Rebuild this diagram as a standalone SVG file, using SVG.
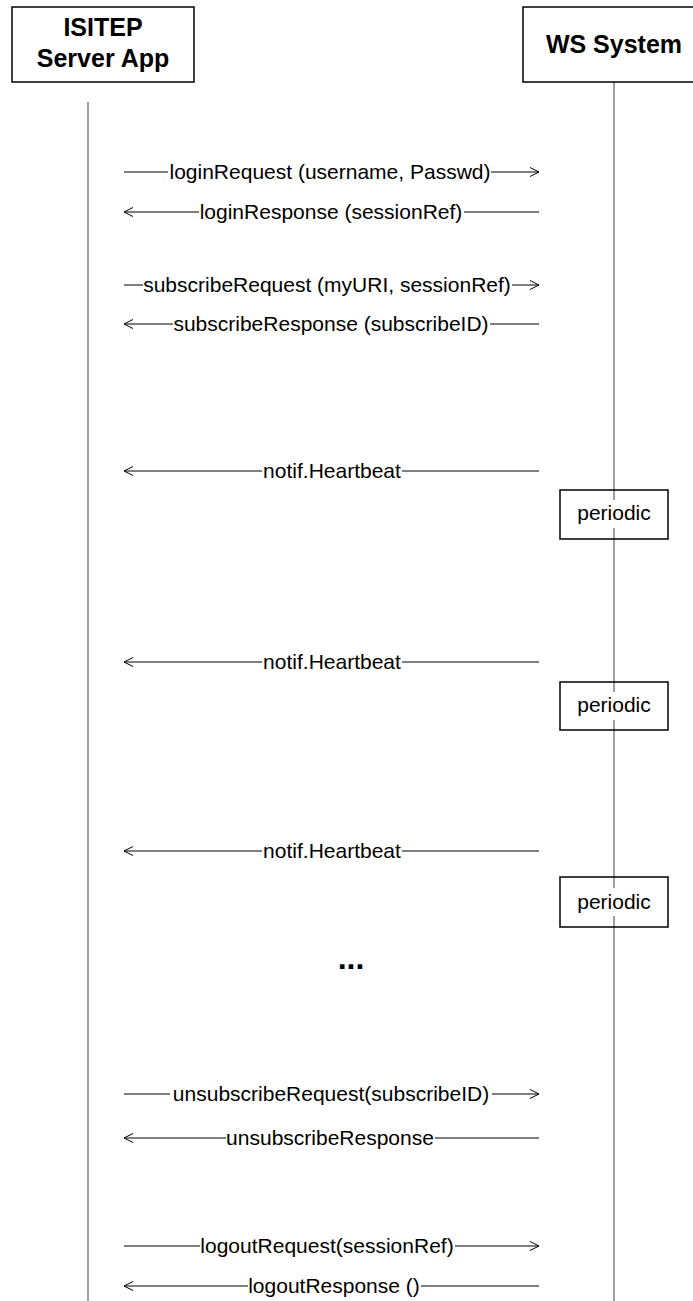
<svg xmlns="http://www.w3.org/2000/svg" width="693" height="1301" viewBox="0 0 693 1301">
  <style>
    .box { fill: #ffffff; stroke: #000000; stroke-width: 1.5; }
    .head { font-family: "Liberation Sans", Arial, sans-serif; font-weight: bold; font-size: 25px; text-anchor: middle; fill: #000000; }
    .life { stroke: #808080; stroke-width: 1.5; fill: none; }
    .msg { stroke: #000000; stroke-width: 1; fill: none; }
    .lbl { font-family: "Liberation Sans", Arial, sans-serif; font-size: 21px; text-anchor: middle; fill: #000000; }
    .bg { fill: #ffffff; stroke: none; }
    .note { fill: none; stroke: #000000; stroke-width: 1.5; }
  </style>
  <defs>
    <marker id="open-arrow" markerUnits="userSpaceOnUse" markerWidth="12" markerHeight="12" viewBox="0 0 12 12" refX="10" refY="6" orient="auto">
      <path d="M1,1.5 L10,6 L1,10.5" fill="none" stroke="#000000" stroke-width="1"/>
    </marker>
  </defs>
  <rect width="693" height="1301" fill="#ffffff"/>

  <!-- lifelines -->
  <g id="lifelines">
    <line class="life" x1="88" y1="102" x2="88" y2="1301"/>
    <line class="life" x1="614" y1="82" x2="614" y2="1301"/>
  </g>

  <!-- participants -->
  <g id="isitep-server-app">
    <rect class="box" x="12" y="7" width="182" height="75"/>
    <text class="head" x="103" y="36">ISITEP</text>
    <text class="head" x="103" y="67">Server App</text>
  </g>
  <g id="ws-system">
    <rect class="box" x="523" y="7" width="190" height="75"/>
    <text class="head" x="614" y="53">WS System</text>
  </g>

  <!-- message connectors with their labels -->
  <g id="connectors">
    <g id="msg-login-request">
      <line class="msg" x1="124" y1="172" x2="539" y2="172" marker-end="url(#open-arrow)"/>
      <rect class="bg" x="168" y="160" width="323" height="26"/>
      <text class="lbl" x="330" y="179">loginRequest (username, Passwd)</text>
    </g>
    <g id="msg-login-response">
      <line class="msg" x1="539" y1="212" x2="124" y2="212" marker-end="url(#open-arrow)"/>
      <rect class="bg" x="199" y="200" width="265" height="26"/>
      <text class="lbl" x="331" y="219">loginResponse (sessionRef)</text>
    </g>
    <g id="msg-subscribe-request">
      <line class="msg" x1="124" y1="285" x2="539" y2="285" marker-end="url(#open-arrow)"/>
      <rect class="bg" x="143" y="273" width="369" height="26"/>
      <text class="lbl" x="327" y="292">subscribeRequest (myURI, sessionRef)</text>
    </g>
    <g id="msg-subscribe-response">
      <line class="msg" x1="539" y1="324" x2="124" y2="324" marker-end="url(#open-arrow)"/>
      <rect class="bg" x="173" y="312" width="317" height="26"/>
      <text class="lbl" x="331" y="331">subscribeResponse (subscribeID)</text>
    </g>
    <g id="msg-heartbeat-1">
      <line class="msg" x1="539" y1="471" x2="124" y2="471" marker-end="url(#open-arrow)"/>
      <rect class="bg" x="262" y="459" width="140" height="26"/>
      <text class="lbl" x="332" y="478">notif.Heartbeat</text>
    </g>
    <g id="msg-heartbeat-2">
      <line class="msg" x1="539" y1="662" x2="124" y2="662" marker-end="url(#open-arrow)"/>
      <rect class="bg" x="262" y="650" width="140" height="26"/>
      <text class="lbl" x="332" y="669">notif.Heartbeat</text>
    </g>
    <g id="msg-heartbeat-3">
      <line class="msg" x1="539" y1="851" x2="124" y2="851" marker-end="url(#open-arrow)"/>
      <rect class="bg" x="262" y="839" width="140" height="26"/>
      <text class="lbl" x="332" y="858">notif.Heartbeat</text>
    </g>
    <g id="msg-unsubscribe-request">
      <line class="msg" x1="124" y1="1094" x2="539" y2="1094" marker-end="url(#open-arrow)"/>
      <rect class="bg" x="170" y="1082" width="322" height="26"/>
      <text class="lbl" x="331" y="1101">unsubscribeRequest(subscribeID)</text>
    </g>
    <g id="msg-unsubscribe-response">
      <line class="msg" x1="539" y1="1138" x2="124" y2="1138" marker-end="url(#open-arrow)"/>
      <rect class="bg" x="226" y="1126" width="209" height="26"/>
      <text class="lbl" x="330" y="1145">unsubscribeResponse</text>
    </g>
    <g id="msg-logout-request">
      <line class="msg" x1="124" y1="1246" x2="539" y2="1246" marker-end="url(#open-arrow)"/>
      <rect class="bg" x="200" y="1234" width="255" height="26"/>
      <text class="lbl" x="327" y="1253">logoutRequest(sessionRef)</text>
    </g>
    <g id="msg-logout-response">
      <line class="msg" x1="539" y1="1286" x2="124" y2="1286" marker-end="url(#open-arrow)"/>
      <rect class="bg" x="248" y="1274" width="173" height="26"/>
      <text class="lbl" x="334" y="1293">logoutResponse ()</text>
    </g>
  </g>

  <!-- periodic notes on the WS System lifeline -->
  <g id="note-periodic-1">
    <rect class="bg" x="576" y="500" width="76" height="28"/>
    <rect class="note" x="560" y="490" width="108" height="49"/>
    <text class="lbl" x="614" y="520">periodic</text>
  </g>
  <g id="note-periodic-2">
    <rect class="bg" x="576" y="692" width="76" height="28"/>
    <rect class="note" x="560" y="682" width="108" height="48"/>
    <text class="lbl" x="614" y="712">periodic</text>
  </g>
  <g id="note-periodic-3">
    <rect class="bg" x="576" y="888" width="76" height="28"/>
    <rect class="note" x="560" y="877" width="108" height="50"/>
    <text class="lbl" x="614" y="909">periodic</text>
  </g>

  <!-- continuation mark -->
  <g id="ellipsis">
    <text x="351" y="969" font-family="Liberation Sans, Arial, sans-serif" font-weight="bold" font-size="32" text-anchor="middle">...</text>
  </g>
</svg>
